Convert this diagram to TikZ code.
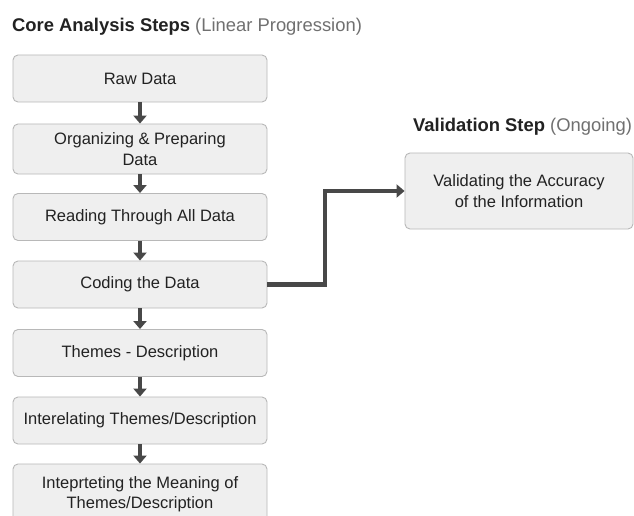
\documentclass[tikz,border=0pt]{standalone}
\usepackage{fontspec}
\setmainfont{Liberation Sans}
\usetikzlibrary{arrows.meta,positioning}
\definecolor{boxfill}{HTML}{EFEFEF}
\definecolor{boxline}{HTML}{B8B8B8}
\definecolor{arrowgray}{HTML}{484848}
\definecolor{txt}{HTML}{222222}
\definecolor{subtxt}{HTML}{707070}
\tikzset{
  stepbox/.style={draw=boxline, fill=boxfill, line width=0.9pt, rounded corners=5pt,
    minimum width=254pt, minimum height=47pt, align=center, text=txt,
    font=\fontsize{16.5}{20.5}\selectfont, inner sep=2pt},
  flow/.style={draw=arrowgray, line width=4.5pt,
    -{Triangle[width=13pt,length=8pt]}},
  heading/.style={anchor=west, inner sep=0pt, font=\fontsize{18.4}{22}\selectfont}
}
\begin{document}
\begin{tikzpicture}[x=1pt,y=-1pt]
\useasboundingbox[fill=white] (0,0) rectangle (634,516);
\begin{scope}
\clip (0,0) rectangle (634,516);
% headings
\node[heading] (t1) at (12,27) {\textbf{\color{txt}Core Analysis Steps} \color{subtxt}(Linear Progression)};
\node[heading] (t2) at (413,127) {\textbf{\color{txt}Validation Step} \color{subtxt}(Ongoing)};
% main column
\node[stepbox] (s1) at (140,78.5) {Raw Data};
\node[stepbox, minimum height=50pt] (s2) at (140,149) {\raisebox{0pt}{}Organizing \& Preparing\\Data};
\node[stepbox] (s3) at (140,217) {Reading Through All Data};
\node[stepbox] (s4) at (140,284.5) {Coding the Data};
\node[stepbox] (s5) at (140,353) {Themes - Description};
\node[stepbox] (s6) at (140,420.5) {Interelating Themes/Description};
\node[stepbox, minimum height=60pt] (s7) at (140,494) {Inteprteting the Meaning of\\Themes/Description};
% validation box
\node[stepbox, minimum width=228pt, minimum height=76pt] (v) at (519,191) {Validating the Accuracy\\of the Information};
% connectors
\foreach \a/\b in {s1/s2,s2/s3,s3/s4,s4/s5,s5/s6,s6/s7}
  \draw[flow] (\a.south) -- (\b.north);
\coordinate (bend) at (325,284.5);
\draw[flow, line join=miter] (s4.east) -- (bend) |- (v.west);
\end{scope}
\end{tikzpicture}
\end{document}
